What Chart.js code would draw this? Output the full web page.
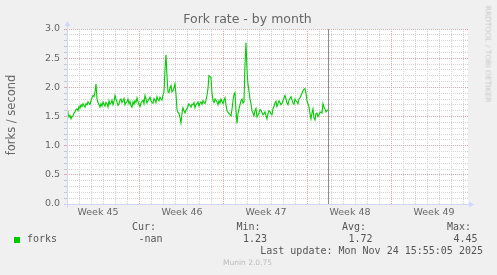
<!DOCTYPE html>
<html>
<head>
<meta charset="utf-8">
<script src="https://cdn.jsdelivr.net/npm/chart.js@4.4.1/dist/chart.umd.min.js"></script>
<style>
  body { margin: 0; background: #f0f0f0; }
  #wrap { position: relative; width: 497px; height: 275px; font-family: 'DejaVu Sans', sans-serif; color: #666; }
  #wrap canvas { position: absolute; left: 0; top: 0; }
  .txt { position: absolute; white-space: pre; }
  .mono { font-family: 'DejaVu Sans Mono', monospace; font-size: 10px; line-height: 12px; color: #555; }
  .vert { transform: translate(-50%, -50%) rotate(-90deg); }
</style>
</head>
<body>
<div id="wrap">
  <canvas id="forkChart" width="497" height="275"></canvas>
  <div class="txt" style="left:0; width:495px; top:11px; text-align:center; font-size:12.5px; line-height:15px;">Fork rate - by month</div>
  <div class="txt vert" style="left:11px; top:115px; font-size:11.5px; line-height:14px;">forks / second</div>
  <div class="txt" style="left:488px; top:54px; font-size:7.5px; line-height:9px; color:#c8c8c8; transform: translate(-50%, -50%) rotate(90deg);">RRDTOOL / TOBI OETIKER</div>
  <div id="legend"></div>
  <div class="txt" style="left:0; width:495px; top:258px; text-align:center; font-size:7.5px; line-height:10px; color:#bbb;">Munin 2.0.75</div>
</div>
<script>
// values, one sample every 2 hours
const forks = [
  1.60, 1.55, 1.49, 1.52, 1.46, 1.50, 1.51, 1.56, 1.58, 1.62,
  1.63, 1.60, 1.67, 1.64, 1.70, 1.67, 1.72, 1.69, 1.66, 1.72,
  1.70, 1.75, 1.73, 1.71, 1.77, 1.82, 1.86, 1.84, 1.92, 2.06,
  1.80, 1.74, 1.70, 1.66, 1.72, 1.68, 1.75, 1.71, 1.68, 1.74,
  1.72, 1.66, 1.77, 1.71, 1.73, 1.78, 1.70, 1.76, 1.86, 1.80,
  1.75, 1.69, 1.72, 1.78, 1.80, 1.74, 1.77, 1.81, 1.70, 1.74,
  1.75, 1.80, 1.72, 1.76, 1.68, 1.66, 1.75, 1.71, 1.77, 1.74,
  1.82, 1.76, 1.70, 1.67, 1.73, 1.76, 1.78, 1.72, 1.86, 1.80,
  1.73, 1.77, 1.80, 1.83, 1.77, 1.74, 1.73, 1.81, 1.78, 1.74,
  1.84, 1.79, 1.77, 1.83, 1.80, 1.78, 1.87, 1.92, 2.30, 2.56,
  2.20, 1.92, 1.91, 1.99, 2.03, 1.92, 1.94, 1.99, 2.06, 1.88,
  1.62, 1.57, 1.55, 1.48, 1.39, 1.55, 1.65, 1.60, 1.56, 1.61,
  1.63, 1.68, 1.72, 1.69, 1.66, 1.71, 1.70, 1.74, 1.65, 1.70,
  1.72, 1.75, 1.68, 1.73, 1.75, 1.71, 1.77, 1.74, 1.72, 1.78,
  1.86, 1.98, 2.20, 2.18, 2.17, 1.90, 1.77, 1.74, 1.80, 1.78,
  1.75, 1.70, 1.77, 1.73, 1.80, 1.76, 1.72, 1.78, 1.82, 1.70,
  1.60, 1.57, 1.55, 1.53, 1.51, 1.62, 1.77, 1.88, 1.91, 1.60,
  1.38, 1.55, 1.63, 1.70, 1.77, 1.80, 1.73, 1.75, 2.40, 2.77,
  2.30, 2.05, 1.94, 1.80, 1.72, 1.60, 1.56, 1.51, 1.60, 1.64,
  1.49, 1.52, 1.56, 1.62, 1.61, 1.57, 1.53, 1.55, 1.58, 1.52,
  1.46, 1.55, 1.60, 1.58, 1.55, 1.53, 1.63, 1.67, 1.73, 1.76,
  1.67, 1.72, 1.77, 1.74, 1.70, 1.72, 1.77, 1.82, 1.86, 1.80,
  1.73, 1.70, 1.78, 1.81, 1.84, 1.79, 1.73, 1.71, 1.80, 1.77,
  1.75, 1.72, 1.80, 1.82, 1.86, 1.90, 1.94, 1.97, 1.98, 1.90,
  1.77, 1.72, 1.67, 1.55, 1.46, 1.56, 1.63, 1.48, 1.44, 1.55,
  1.56, 1.50, 1.53, 1.57, 1.58, 1.56, 1.72, 1.66, 1.63, 1.58,
  1.60, 1.62
];
const weekLabels = ['Week 45', 'Week 46', 'Week 47', 'Week 48', 'Week 49'];
const statLabels = ['Cur:', 'Min:', 'Avg:', 'Max:'];
const statValues = ['-nan', '1.23', '1.72', '4.45'];
const lastUpdate = 'Last update: Mon Nov 24 15:55:05 2025';

const stepDays = 1 / 12;         // 2 hour samples
const firstMidnight = 1 / 12;    // first day line after graph start (days)
const firstWeekStart = 6 + 1 / 12;
const spanDays = 33.42;
const nowDay = 21.75;
const yMax = 3;

const gridGray = '#d4d4d4';
const gridRed = '#eba3a3';
const axisColor = '#cfd6f8';

function isWeekLine(v) {
  const k = Math.round(v - firstMidnight);
  return (k - 6) % 7 === 0;
}
function isHalf(v) {
  return Math.abs(v * 2 - Math.round(v * 2)) < 1e-6;
}

// legend / stats block
const legend = document.getElementById('legend');
let html = '<div class="txt" style="left:14px; top:237px; width:6px; height:6px; background:#00cc00;"></div>';
html += '<div class="txt mono" style="left:27px; top:233px;">forks</div>';
const statX = [132, 236.5, 342, 447];
statLabels.forEach((lab, i) => {
  html += '<div class="txt mono" style="left:' + statX[i] + 'px; top:221px;">' + lab + '</div>';
  html += '<div class="txt mono" style="left:' + (statX[i] + 6.5) + 'px; top:233px;">' + statValues[i] + '</div>';
});
html += '<div class="txt mono" style="right:14px; top:245px;">' + lastUpdate + '</div>';
legend.innerHTML = html;

const rrdDecor = {
  id: 'rrdDecor',
  beforeDraw(chart) {
    const a = chart.chartArea, ctx = chart.ctx;
    ctx.save();
    ctx.fillStyle = '#ffffff';
    ctx.fillRect(a.left, a.top, a.right - a.left, a.bottom - a.top);
    ctx.restore();
  },
  afterDatasetsDraw(chart) {
    const a = chart.chartArea, ctx = chart.ctx;
    const xs = chart.scales.x;
    ctx.save();
    // "now" marker
    const nx = Math.round(xs.getPixelForValue(nowDay)) + 0.5;
    ctx.strokeStyle = '#8c8c8c';
    ctx.lineWidth = 1;
    ctx.beginPath();
    ctx.moveTo(nx, a.top);
    ctx.lineTo(nx, a.bottom);
    ctx.stroke();
    // axes with arrows
    ctx.strokeStyle = axisColor;
    ctx.fillStyle = axisColor;
    const x0 = Math.round(a.left) + 0.5, y0 = Math.round(a.bottom) + 0.5;
    ctx.beginPath();
    ctx.moveTo(x0, y0 + 3);
    ctx.lineTo(x0, a.top - 4);
    ctx.moveTo(x0 - 3, y0);
    ctx.lineTo(a.right + 2, y0);
    ctx.stroke();
    ctx.beginPath();
    ctx.moveTo(x0 - 3, a.top - 3);
    ctx.lineTo(x0 + 3, a.top - 3);
    ctx.lineTo(x0, a.top - 8);
    ctx.closePath();
    ctx.fill();
    ctx.beginPath();
    ctx.moveTo(a.right + 1, y0 - 3);
    ctx.lineTo(a.right + 1, y0 + 3);
    ctx.lineTo(a.right + 6, y0);
    ctx.closePath();
    ctx.fill();
    ctx.restore();
  }
};

new Chart(document.getElementById('forkChart'), {
  type: 'line',
  data: {
    datasets: [{
      label: 'forks',
      data: forks.map((v, i) => ({ x: i * stepDays, y: v })),
      borderColor: '#00cc00',
      borderWidth: 1.1,
      pointRadius: 0,
      tension: 0,
      xAxisID: 'x',
      yAxisID: 'y'
    }]
  },
  options: {
    responsive: false,
    animation: false,
    devicePixelRatio: 1,
    layout: { padding: { left: 0, top: 29, right: 29, bottom: 51 } },
    plugins: { legend: { display: false }, tooltip: { enabled: false }, title: { display: false } },
    scales: {
      x: {
        type: 'linear',
        position: 'bottom',
        min: 0,
        max: spanDays,
        afterBuildTicks: (s) => {
          const t = [];
          for (let k = 0; firstMidnight + k < spanDays; k++) t.push({ value: firstMidnight + k });
          s.ticks = t;
        },
        afterFit: (s) => { s.height = 0; },
        ticks: { display: false },
        border: { display: false, dash: [1, 1] },
        grid: {
          color: (c) => (c.tick && isWeekLine(c.tick.value) ? gridRed : gridGray),
          drawTicks: false
        }
      },
      x2: {
        type: 'linear',
        position: 'bottom',
        min: 0,
        max: spanDays,
        afterBuildTicks: (s) => {
          s.ticks = weekLabels.map((_, i) => ({ value: firstWeekStart - 3.5 + 7 * i }));
        },
        afterFit: (s) => { s.height = 20; },
        ticks: {
          autoSkip: false,
          maxRotation: 0,
          padding: 3,
          color: '#666',
          font: { family: 'DejaVu Sans', size: 9.5 },
          callback: (v, i) => weekLabels[i]
        },
        border: { display: false },
        grid: { display: false, drawTicks: false }
      },
      y: {
        min: 0,
        max: yMax,
        afterBuildTicks: (s) => {
          const t = [];
          for (let i = 0; i <= yMax * 10; i++) t.push({ value: i / 10 });
          s.ticks = t;
        },
        afterFit: (s) => { s.width = 67; },
        ticks: {
          autoSkip: false,
          padding: 4,
          color: '#666',
          font: { family: 'DejaVu Sans', size: 9.5 },
          callback: (v) => (isHalf(v) ? v.toFixed(1) : '')
        },
        border: { display: false, dash: [1, 1] },
        grid: {
          color: (c) => (c.tick && isHalf(c.tick.value) ? gridRed : gridGray),
          tickColor: (c) => (c.tick && isHalf(c.tick.value) ? gridRed : '#c8c8c8'),
          tickLength: 3
        }
      }
    }
  },
  plugins: [rrdDecor]
});
</script>
</body>
</html>
